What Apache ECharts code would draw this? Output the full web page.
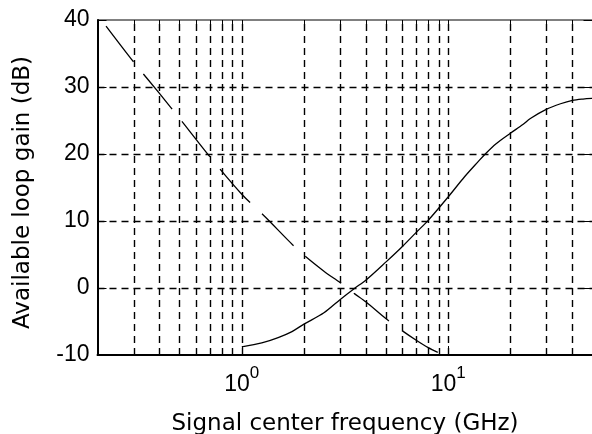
<!DOCTYPE html>
<html><head><meta charset="utf-8">
<script src="https://cdn.jsdelivr.net/npm/echarts@6/dist/echarts.min.js"></script>
<style>html,body{margin:0;padding:0;background:#fff}#c{width:592px;height:434px}</style>
</head><body><div id="c"></div>
<script>
// ---- data ----
const xName = 'Signal center frequency (GHz)';
const yName = 'Available loop gain (dB)';
const yTicks = [-10, 0, 10, 20, 30, 40];
const gridGains = [0, 10, 20, 30];
const majorFreqs = [1, 10];
const minorFreqs = [0.3, 0.4, 0.5, 0.6, 0.7, 0.8, 0.9, 2, 3, 4, 5, 6, 7, 8, 9, 20, 30, 40];
const gridFreqs = [0.3, 0.4, 0.5, 0.6, 0.7, 0.8, 0.9, 1, 2, 3, 4, 5, 6, 7, 8, 9, 10, 20, 30, 40];

// solid curve (available loop gain)
const solidFreq = [1.0, 1.25, 1.5, 1.75, 2.0, 2.5, 3.0, 3.5, 4.0, 5.0, 6.0, 7.0, 8.0, 10, 12, 14, 15, 17, 20, 23, 25, 30, 35, 40, 45, 50];
const solidGain = [-8.8, -8.2, -7.4, -6.5, -5.4, -3.7, -1.7, -0.1, 1.2, 3.9, 6.2, 8.3, 10.1, 13.6, 16.6, 18.9, 19.9, 21.5, 23.1, 24.4, 25.3, 26.7, 27.5, 28.0, 28.2, 28.3];

// dashed curve
const dashFreq = [0.22, 0.3, 0.4, 0.5, 0.7, 1.0, 1.3, 1.87, 2.5, 3.0, 3.5, 4.0, 5.0, 6.0, 7.0, 8.0, 8.9];
const dashGain = [39.1, 33.7, 29.0, 25.3, 19.6, 14.0, 10.6, 5.7, 2.5, 0.8, -0.8, -2.1, -4.6, -6.4, -7.8, -8.9, -9.6];

// ---- chart ----
const black = '#000';
const gridDash = [7, 5];
const tickFont = 'Liberation Sans, Arial, sans-serif';
const nameFont = 'DejaVu Sans, sans-serif';
const xMin = 0.2, xMax = 50;

function pairs(xs, ys) { return xs.map((x, i) => [x, ys[i]]); }

const chart = echarts.init(document.getElementById('c'), null, {renderer: 'canvas'});
const baseX = {type: 'log', logBase: 10, min: xMin, max: xMax, gridIndex: 0,
  splitLine: {show: false}, axisLabel: {show: false}, axisLine: {show: false, onZero: false}};

chart.setOption({
  animation: false,
  backgroundColor: '#fff',
  grid: {left: 97.5, top: 20, width: 495, height: 335, show: true, containLabel: false,
         outerBoundsMode: 'none',
         borderColor: black, borderWidth: 1, backgroundColor: 'transparent'},
  xAxis: [
    Object.assign({}, baseX, {
      position: 'bottom',
      axisLine: {show: true, onZero: false, lineStyle: {color: black, width: 2}},
      axisTick: {show: true, inside: true, length: 9, lineStyle: {color: black, width: 1}},
      axisLabel: {show: true, showMinLabel: false, showMaxLabel: false, margin: 10,
        formatter: v => '{b|10}{s|' + Math.round(Math.log10(v)) + '}',
        rich: {
          b: {fontFamily: tickFont, fontSize: 23, color: black, lineHeight: 40},
          s: {fontFamily: tickFont, fontSize: 17, color: black, lineHeight: 12, verticalAlign: 'top'}
        }},
      name: xName, nameLocation: 'middle', nameGap: 58,
      nameTextStyle: {fontFamily: nameFont, fontSize: 23, color: black}
    }),
    Object.assign({}, baseX, {position: 'bottom',
      axisTick: {show: true, inside: true, length: 5, customValues: minorFreqs, lineStyle: {color: black}}}),
    Object.assign({}, baseX, {position: 'top',
      axisTick: {show: true, inside: true, length: 9, customValues: majorFreqs, lineStyle: {color: black}}}),
    Object.assign({}, baseX, {position: 'top',
      axisTick: {show: true, inside: true, length: 5, customValues: minorFreqs, lineStyle: {color: black}}})
  ],
  yAxis: [
    {type: 'value', min: yTicks[0], max: yTicks[yTicks.length - 1], interval: 10, position: 'left',
     axisLine: {show: true, onZero: false, lineStyle: {color: black, width: 2}},
     axisTick: {show: true, inside: true, length: 9, lineStyle: {color: black}},
     axisLabel: {fontFamily: tickFont, fontSize: 23, color: black, margin: 8},
     splitLine: {show: false},
     name: yName, nameLocation: 'middle', nameGap: 63, nameRotate: 90,
     nameTextStyle: {fontFamily: nameFont, fontSize: 23, color: black, padding: [0, 10, 0, 0]}},
    {type: 'value', min: yTicks[0], max: yTicks[yTicks.length - 1], interval: 10, position: 'right',
     axisLine: {show: false, onZero: false},
     axisTick: {show: true, inside: true, length: 9, lineStyle: {color: black}},
     axisLabel: {show: false}, splitLine: {show: false}}
  ],
  series: [
    {type: 'line', xAxisIndex: 0, yAxisIndex: 0, data: [], silent: true,
     markLine: {silent: true, symbol: 'none', animation: false,
       label: {show: false}, emphasis: {disabled: true},
       lineStyle: {type: gridDash, color: black, width: 1.4},
       data: gridFreqs.map(f => ({xAxis: f})).concat(gridGains.map(g => ({yAxis: g})))}},
    {type: 'line', name: 'gain', xAxisIndex: 0, yAxisIndex: 0, data: pairs(solidFreq, solidGain),
     showSymbol: false, symbol: 'none', smooth: 0.3, silent: true,
     lineStyle: {color: black, width: 1.3}},
    {type: 'line', name: 'dashed', xAxisIndex: 0, yAxisIndex: 0, data: pairs(dashFreq, dashGain),
     showSymbol: false, symbol: 'none', smooth: 0.3, silent: true,
     lineStyle: {color: black, width: 1.3, type: [45, 16]}}
  ]
});
</script>
</body></html>
